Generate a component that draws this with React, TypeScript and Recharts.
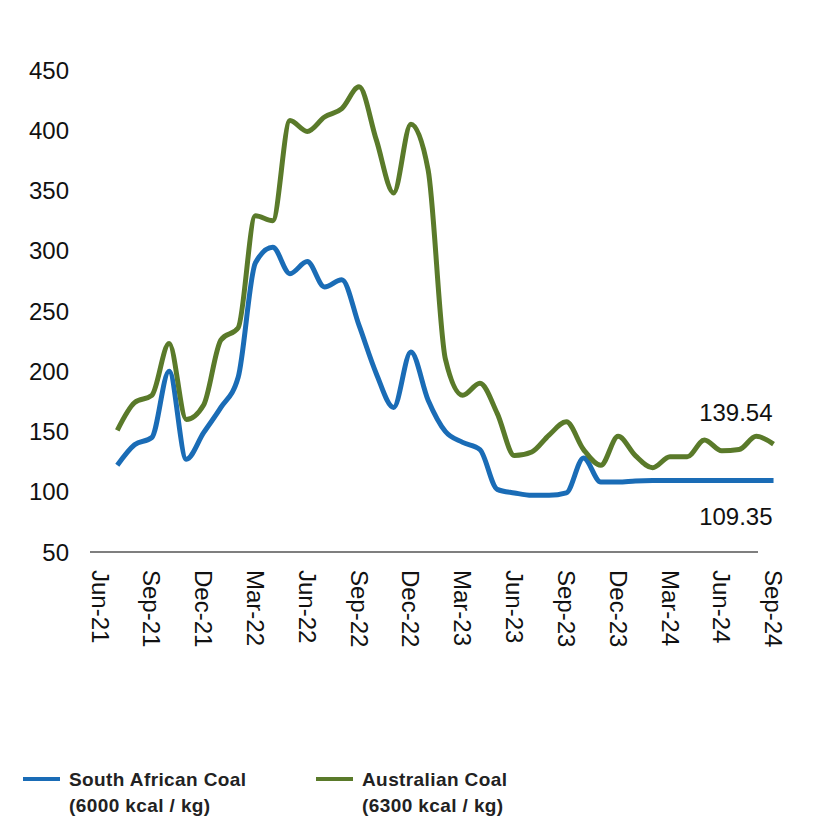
import React from 'react';
import { LineChart, Line, XAxis, YAxis, ReferenceLine } from 'recharts';

// months counted from Jun-21 (0) to Sep-24 (39)
const tickLabels = [
  'Jun-21', 'Sep-21', 'Dec-21', 'Mar-22', 'Jun-22', 'Sep-22', 'Dec-22',
  'Mar-23', 'Jun-23', 'Sep-23', 'Dec-23', 'Mar-24', 'Jun-24', 'Sep-24',
];
const tickMonths = [0, 3, 6, 9, 12, 15, 18, 21, 24, 27, 30, 33, 36, 39];

const months = [
  1, 2, 3, 4, 5, 6, 7, 8, 9, 10, 11, 12, 13, 14, 15, 16, 17, 18, 19, 20,
  21, 22, 23, 24, 25, 26, 27, 28, 29, 30, 31, 32, 33, 34, 35, 36, 37, 38, 39,
];

const southAfrican = [
  122, 139, 145, 200, 127, 149, 170, 195, 290, 303, 281, 291, 270, 276, 238,
  198, 170, 216, 176, 150, 141, 135, 102, 99, 97, 97, 99, 128, 108, 108,
  109, 109.4, 109.4, 109.4, 109.4, 109.4, 109.4, 109.4, 109.35,
];

const australian = [
  151, 174, 180, 223, 160, 172, 226, 236, 329, 325, 408, 399, 411, 418, 436,
  392, 348, 405, 367, 210, 180, 190, 165, 130, 133, 147, 158, 135, 122, 146,
  130, 120, 129, 129, 143, 134, 135, 146, 139.54,
];

const yTicks = [50, 100, 150, 200, 250, 300, 350, 400, 450];

const BLUE = '#1a6cb6';
const GREEN = '#5a7a2a';

const data = months.map((m, i) => ({
  m,
  sa: southAfrican[i],
  au: australian[i],
}));

const MonthTick = (props: any) => {
  const { x, y, payload } = props;
  const idx = tickMonths.indexOf(payload.value);
  const ty = y + 10;
  return (
    <text
      x={x}
      y={ty}
      dy="0.35em"
      transform={`rotate(90, ${x}, ${ty})`}
      textAnchor="start"
      fontSize={24}
      fill="#111"
    >
      {tickLabels[idx]}
    </text>
  );
};

const endLabel = (series: number[], offset: number) => (props: any) => {
  const { x, y, index, value } = props;
  if (index !== series.length - 1) return null;
  return (
    <text x={x - 1} y={y + offset} dy="0.35em" textAnchor="end" fontSize={24} fill="#111">
      {Number(value).toFixed(2)}
    </text>
  );
};

const legendItems = [
  { label: 'South African Coal', sub: '(6000 kcal / kg)', color: BLUE, left: 23 },
  { label: 'Australian Coal', sub: '(6300 kcal / kg)', color: GREEN, left: 316 },
];

export default function App() {
  return (
    <div
      style={{
        position: 'absolute',
        left: 0,
        top: 0,
        width: 813,
        height: 819,
        background: '#fff',
        fontFamily: "'Liberation Sans', Arial, sans-serif",
      }}
    >
      <LineChart
        width={813}
        height={819}
        data={data}
        margin={{ top: 70, right: 31, bottom: 147, left: 0 }}
      >
        <XAxis
          dataKey="m"
          type="number"
          domain={[-0.58, 39.49]}
          ticks={tickMonths}
          interval={0}
          axisLine={false}
          tickLine={false}
          tick={<MonthTick />}
          height={120}
        />
        <YAxis
          type="number"
          domain={[50, 450]}
          ticks={yTicks}
          axisLine={false}
          tickLine={false}
          tickSize={0}
          tickMargin={21}
          width={90}
          tick={{ fontSize: 24, fill: '#111' }}
        />
        <ReferenceLine
          segment={[{ x: -0.58, y: 50 }, { x: 38.1, y: 50 }]}
          stroke="#7f7f7f"
          strokeWidth={2}
          ifOverflow="visible"
        />
        <Line
          dataKey="sa"
          type="monotone"
          stroke={BLUE}
          strokeWidth={5}
          dot={false}
          isAnimationActive={false}
          label={endLabel(southAfrican, 36)}
        />
        <Line
          dataKey="au"
          type="monotone"
          stroke={GREEN}
          strokeWidth={5}
          dot={false}
          isAnimationActive={false}
          label={endLabel(australian, -32)}
        />
      </LineChart>
      {legendItems.map((item) => (
        <div
          key={item.label}
          style={{ position: 'absolute', left: item.left, top: 767 }}
        >
          <div
            style={{
              position: 'absolute',
              left: 0,
              top: 10,
              width: 37,
              height: 4,
              background: item.color,
            }}
          />
          <div
            style={{
              position: 'absolute',
              left: 46,
              top: 0,
              whiteSpace: 'nowrap',
              fontWeight: 'bold',
              fontSize: 19,
              letterSpacing: 0.4,
              lineHeight: '26px',
              color: '#222',
            }}
          >
            {item.label}
            <br />
            {item.sub}
          </div>
        </div>
      ))}
    </div>
  );
}
